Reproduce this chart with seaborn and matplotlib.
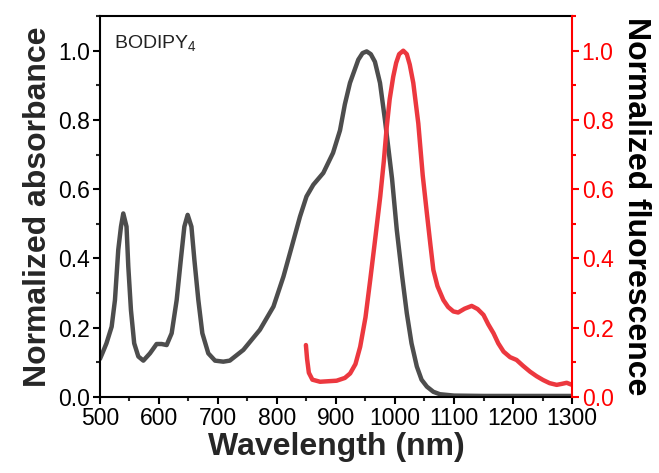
import numpy as np
import pandas as pd
import matplotlib
matplotlib.use("Agg")
import matplotlib.pyplot as plt
from matplotlib.ticker import MultipleLocator
import seaborn as sns

# Absorbance spectrum
abs_wl = [500, 505, 511, 519.8, 525.4, 531, 535.6, 539.5, 545, 548, 552.5, 558, 565, 573.5,
          584.7, 596, 604.5, 613, 621.5, 630, 637, 643, 648.6, 655, 660, 666.7, 673.5, 683.6,
          695, 709, 720, 743, 771, 794, 811, 825, 839, 850, 861.6, 878.5, 895, 906.8, 915,
          923.7, 937.8, 945, 952, 959, 966, 974.6, 983, 995, 1003, 1012, 1020, 1028, 1037,
          1045, 1054, 1065, 1076, 1100, 1150, 1200, 1250, 1300]
abs_val = [0.11, 0.13, 0.155, 0.203, 0.28, 0.425, 0.492, 0.53, 0.492, 0.377, 0.251, 0.155,
           0.117, 0.105, 0.126, 0.153, 0.153, 0.150, 0.184, 0.28, 0.396, 0.492, 0.526, 0.492,
           0.396, 0.28, 0.184, 0.126, 0.105, 0.102, 0.105, 0.136, 0.194, 0.261, 0.348, 0.434,
           0.521, 0.579, 0.613, 0.647, 0.705, 0.77, 0.845, 0.907, 0.974, 0.993, 0.998, 0.99,
           0.968, 0.907, 0.80, 0.63, 0.483, 0.35, 0.242, 0.155, 0.088, 0.05, 0.03, 0.015,
           0.008, 0.004, 0.003, 0.003, 0.003, 0.003]

# Fluorescence spectrum
fl_wl = [849, 851, 854, 860, 873, 901, 915, 924, 933, 941, 950, 958, 966, 975, 981, 986,
         991, 997, 1002, 1007, 1014, 1020, 1025, 1031, 1039.5, 1047, 1054, 1060, 1065, 1072,
         1082, 1090, 1099, 1107, 1118, 1130, 1140, 1150, 1158, 1167, 1175, 1184, 1195, 1206,
         1217, 1229, 1240, 1251, 1262, 1274, 1283, 1291, 1300]
fl_val = [0.15, 0.11, 0.07, 0.05, 0.044, 0.047, 0.055, 0.068, 0.095, 0.145, 0.23, 0.338,
          0.45, 0.579, 0.68, 0.78, 0.86, 0.925, 0.965, 0.99, 1.0, 0.99, 0.96, 0.907, 0.79,
          0.64, 0.531, 0.44, 0.367, 0.32, 0.28, 0.26, 0.247, 0.244, 0.255, 0.263, 0.254,
          0.237, 0.21, 0.184, 0.155, 0.131, 0.115, 0.107, 0.09, 0.073, 0.06, 0.049, 0.04,
          0.035, 0.038, 0.041, 0.035]

x_ticks = [500, 600, 700, 800, 900, 1000, 1100, 1200, 1300]
y_ticks = [0.0, 0.2, 0.4, 0.6, 0.8, 1.0]

sns.set_style("ticks")
plt.rcParams['font.family'] = ['Liberation Sans', 'DejaVu Sans']
plt.rcParams['mathtext.default'] = 'regular'

abs_df = pd.DataFrame({"wl": abs_wl, "val": abs_val})
fl_df = pd.DataFrame({"wl": fl_wl, "val": fl_val})

fig = plt.figure(figsize=(6.59, 4.73), dpi=100)
ax = fig.add_axes([0.1517, 0.1607, 0.868 - 0.1517, 0.966 - 0.1607])
ax2 = ax.twinx()

gray = "#4d4d4d"
red = "#ec383f"
sns.lineplot(data=abs_df, x="wl", y="val", ax=ax, color=gray, lw=3.2,
             solid_joinstyle='round', solid_capstyle='round')
sns.lineplot(data=fl_df, x="wl", y="val", ax=ax2, color=red, lw=3.2,
             solid_joinstyle='round', solid_capstyle='round')

for a in (ax, ax2):
    a.set_xlim(500, 1300)
    a.set_ylim(0, 1.1)
    a.set_yticks(y_ticks)
    a.yaxis.set_minor_locator(MultipleLocator(0.1))

ax.set_xticks(x_ticks)
ax.xaxis.set_minor_locator(MultipleLocator(50))
ax.set_yticklabels([f"{v:.1f}" for v in y_ticks])
ax2.set_yticklabels([f"{v:.1f}" for v in y_ticks])

ax.tick_params(axis='both', which='major', direction='out', length=5, width=1.5,
               labelsize=16.5, colors='black', pad=2)
ax.tick_params(axis='both', which='minor', direction='out', length=3, width=1.5)
ax.tick_params(axis='x', which='both', top=False)
ax2.tick_params(axis='y', which='major', direction='out', length=5, width=1.5,
                labelsize=16.5, colors='red', pad=2)
ax2.tick_params(axis='y', which='minor', direction='out', length=3, width=1.5, colors='red')

for s in ("left", "bottom", "top"):
    ax.spines[s].set_linewidth(1.5)
    ax.spines[s].set_color("black")
    ax2.spines[s].set_visible(False)
ax.spines["right"].set_visible(False)
ax2.spines["right"].set_color("red")
ax2.spines["right"].set_linewidth(1.5)

ax.set_xlabel("Wavelength (nm)", fontsize=23, fontweight='bold', labelpad=2)
ax.set_ylabel("Normalized absorbance", fontsize=23, fontweight='bold', labelpad=4)
ax2.set_ylabel("Normalized fluorescence", fontsize=23, fontweight='bold', color='black',
               rotation=270, labelpad=27)

ax.text(0.03, 0.93, "BODIPY$_4$", transform=ax.transAxes, fontsize=14,
        ha='left', va='center', color='#222222')

fig.savefig("out.png", dpi=100)
